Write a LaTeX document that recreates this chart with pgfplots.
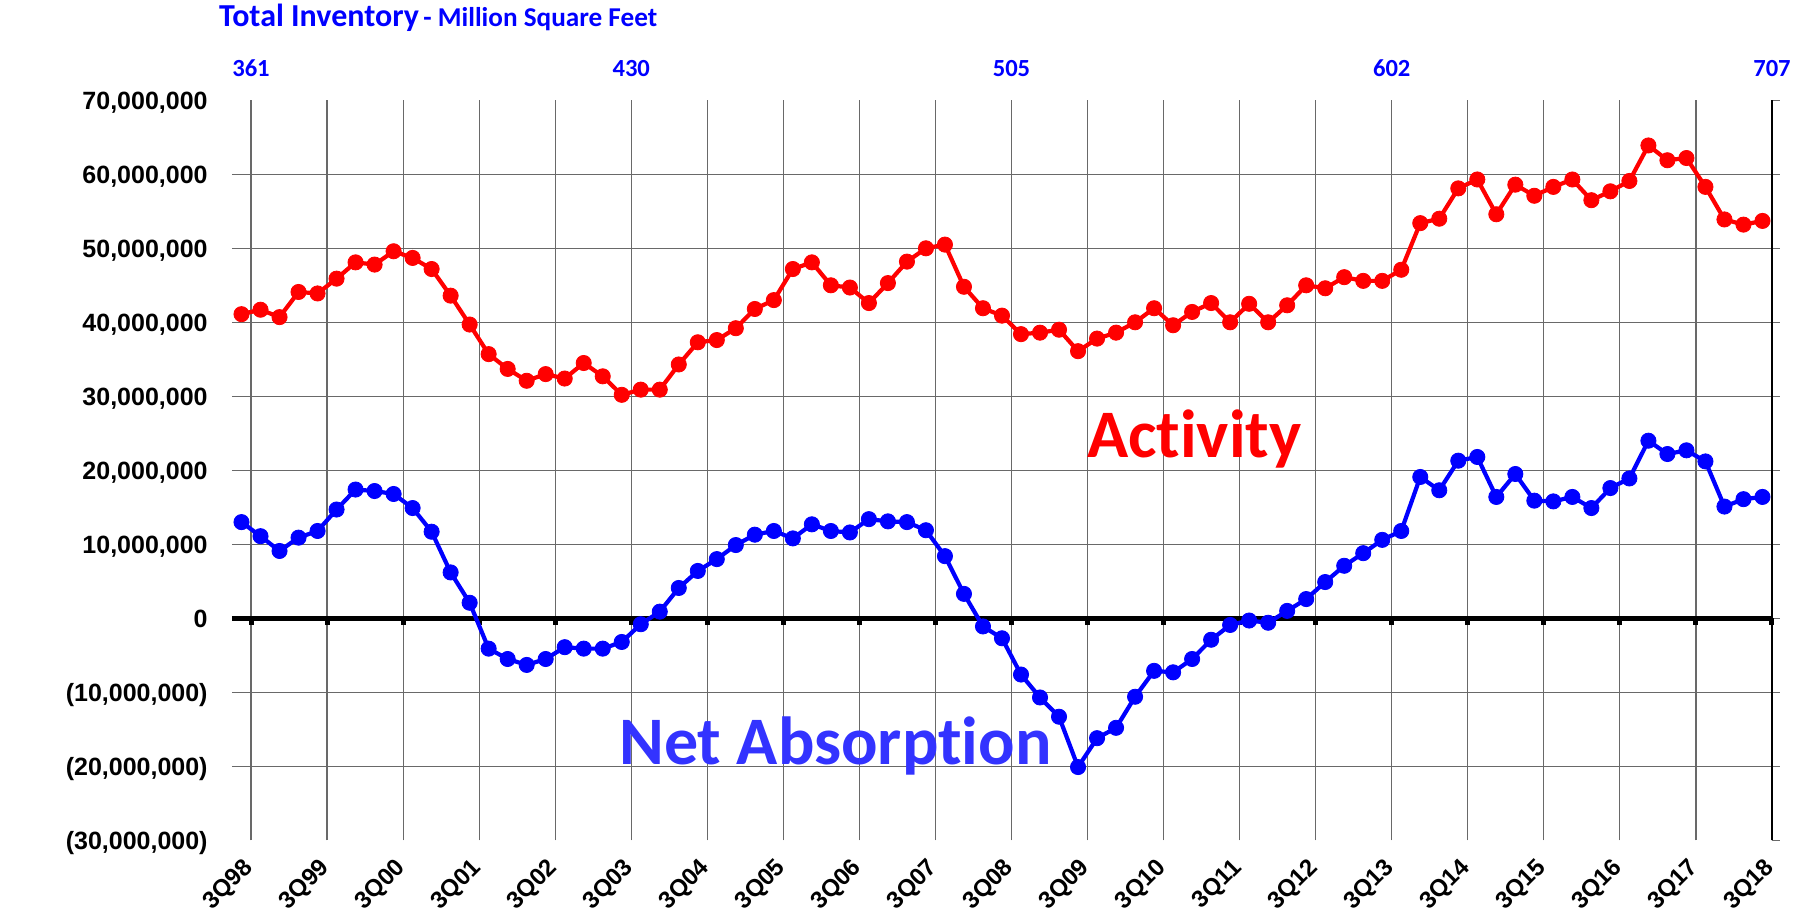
\documentclass[border=0pt]{standalone}
\usepackage{fontspec}
\setmainfont{Liberation Sans}
\newfontfamily\calibri[Ligatures=NoCommon]{Carlito}
\usepackage{pgfplots}
\usepackage{pgfplotstable}
\pgfplotsset{compat=1.18}

\definecolor{gridgray}{RGB}{105,105,105}
\definecolor{netblue}{RGB}{51,51,255}

% quarterly values, million sq ft; idx 0 = 3Q98 ... 80 = 3Q18
\pgfplotstableread{
idx act net
0 41.1 13.0
1 41.7 11.1
2 40.7 9.1
3 44.1 10.9
4 43.9 11.8
5 45.9 14.7
6 48.1 17.4
7 47.8 17.2
8 49.6 16.8
9 48.7 14.9
10 47.2 11.7
11 43.6 6.2
12 39.7 2.1
13 35.7 -4.1
14 33.7 -5.5
15 32.1 -6.3
16 33.0 -5.5
17 32.4 -3.9
18 34.5 -4.1
19 32.7 -4.1
20 30.2 -3.2
21 30.9 -0.8
22 30.9 0.9
23 34.3 4.1
24 37.3 6.4
25 37.6 8.0
26 39.2 9.9
27 41.8 11.3
28 43.0 11.8
29 47.2 10.8
30 48.1 12.7
31 45.0 11.8
32 44.7 11.6
33 42.6 13.4
34 45.3 13.1
35 48.2 13.0
36 50.0 11.9
37 50.5 8.4
38 44.8 3.3
39 41.9 -1.1
40 40.9 -2.7
41 38.4 -7.6
42 38.6 -10.7
43 39.0 -13.3
44 36.1 -20.1
45 37.8 -16.2
46 38.6 -14.8
47 40.0 -10.6
48 41.9 -7.1
49 39.6 -7.3
50 41.4 -5.5
51 42.6 -2.9
52 40.0 -0.9
53 42.5 -0.3
54 40.0 -0.6
55 42.3 1.0
56 45.0 2.6
57 44.6 4.9
58 46.1 7.1
59 45.6 8.8
60 45.6 10.6
61 47.1 11.8
62 53.4 19.1
63 54.0 17.3
64 58.1 21.3
65 59.3 21.8
66 54.6 16.4
67 58.6 19.5
68 57.1 15.9
69 58.3 15.8
70 59.3 16.4
71 56.5 14.9
72 57.7 17.6
73 59.1 18.9
74 63.9 24.0
75 61.9 22.2
76 62.2 22.7
77 58.3 21.2
78 53.9 15.1
79 53.2 16.1
80 53.7 16.4
}\quarters

\begin{document}
\begin{tikzpicture}
\begin{axis}[
    at={(0,0)}, anchor=south west,
    scale only axis,
    width=770pt, height=370pt,
    xmin=-0.5, xmax=80.5,
    ymin=-30, ymax=70,
    clip=false,
    axis line style={draw=none},
    xtick={0.5,4.5,8.5,12.5,16.5,20.5,24.5,28.5,32.5,36.5,40.5,44.5,48.5,52.5,56.5,60.5,64.5,68.5,72.5,76.5,80.5},
    xticklabels={3Q98,3Q99,3Q00,3Q01,3Q02,3Q03,3Q04,3Q05,3Q06,3Q07,3Q08,3Q09,3Q10,3Q11,3Q12,3Q13,3Q14,3Q15,3Q16,3Q17,3Q18},
    ytick={-20,-10,0,10,20,30,40,50,60},
    yticklabels={{(20,000,000)},{(10,000,000)},0,{10,000,000},{20,000,000},{30,000,000},{40,000,000},{50,000,000},{60,000,000}},
    extra y ticks={-30,70},
    extra y tick labels={{(30,000,000)},{70,000,000}},
    extra y tick style={grid=none},
    grid=major,
    grid style={gridgray, line width=0.6pt},
    ytick pos=right, yticklabel pos=left,
    tick align=outside,
    major tick length=4pt,
    xtick style={draw=none},
    ytick style={gridgray, line width=0.6pt},
    tick label style={font=\bfseries\fontsize{12.5}{15}\selectfont},
    yticklabel style={anchor=base east, inner sep=0pt, xshift=-8pt, yshift=-4.5pt},
    xticklabel style={font=\bfseries\fontsize{12}{14}\selectfont,
        xshift=-4.5pt, yshift=-4pt, rotate=45, anchor=north east, inner sep=0pt},
]
    \addplot[black, line width=2.5pt, forget plot] coordinates {(-0.5,0) (80.5,0)};
    % short tick stubs under the zero line
    \addplot[ycomb, black, line width=2.5pt, forget plot] coordinates {
        (0.5,-0.95) (4.5,-0.95) (8.5,-0.95) (12.5,-0.95) (16.5,-0.95) (20.5,-0.95) (24.5,-0.95)
        (28.5,-0.95) (32.5,-0.95) (36.5,-0.95) (40.5,-0.95) (44.5,-0.95) (48.5,-0.95) (52.5,-0.95)
        (56.5,-0.95) (60.5,-0.95) (64.5,-0.95) (68.5,-0.95) (72.5,-0.95) (76.5,-0.95) (80.5,-0.95)};

    \addplot[red, line width=2.1pt, mark=*, mark size=3.8pt,
        mark options={fill=red, draw=red, line width=0.4pt}]
        table[x=idx, y=act] {\quarters};

    \addplot[blue, line width=2.1pt, mark=*, mark size=3.8pt,
        mark options={fill=blue, draw=blue, line width=0.4pt}]
        table[x=idx, y=net] {\quarters};

    \draw[black, line width=0.8pt] (rel axis cs:1,0) -- (rel axis cs:1,1);

    \node[anchor=base west, inner sep=0pt, text=red,
        font=\calibri\bfseries\fontsize{34}{40}\selectfont]
        at (axis cs:44.45,21.7) {Activity};
    \node[anchor=base west, inner sep=0pt, text=netblue,
        font=\calibri\bfseries\fontsize{34}{40}\selectfont]
        at (axis cs:19.85,-19.8) {Net Absorption};

    \node[rotate=90, font=\bfseries\fontsize{18.2}{22}\selectfont]
        at (rel axis cs:0,0) [xshift=-100.5pt, yshift=207.3pt] {Square Feet};

    \node[anchor=base west, inner sep=0pt, text=blue, font=\calibri\bfseries]
        at (rel axis cs:0,1) [xshift=-6.6pt, yshift=36.8pt]
        {{\fontsize{16}{19}\selectfont Total Inventory} {\fontsize{13.6}{16}\selectfont - Million Square Feet}};

    % total inventory at 5-year marks
    \node[anchor=base, inner sep=0pt, text=blue, font=\calibri\bfseries\fontsize{12.3}{14}\selectfont]
        at (axis cs:0.5,70) [yshift=11.9pt] {361};
    \node[anchor=base, inner sep=0pt, text=blue, font=\calibri\bfseries\fontsize{12.3}{14}\selectfont]
        at (axis cs:20.5,70) [yshift=11.9pt] {430};
    \node[anchor=base, inner sep=0pt, text=blue, font=\calibri\bfseries\fontsize{12.3}{14}\selectfont]
        at (axis cs:40.5,70) [yshift=11.9pt] {505};
    \node[anchor=base, inner sep=0pt, text=blue, font=\calibri\bfseries\fontsize{12.3}{14}\selectfont]
        at (axis cs:60.5,70) [yshift=11.9pt] {602};
    \node[anchor=base, inner sep=0pt, text=blue, font=\calibri\bfseries\fontsize{12.3}{14}\selectfont]
        at (axis cs:80.5,70) [yshift=11.9pt] {707};
\end{axis}
\pgfresetboundingbox
\path[use as bounding box] (-116pt,-37.85pt) rectangle (783.5pt,420.15pt);
\end{tikzpicture}
\end{document}
